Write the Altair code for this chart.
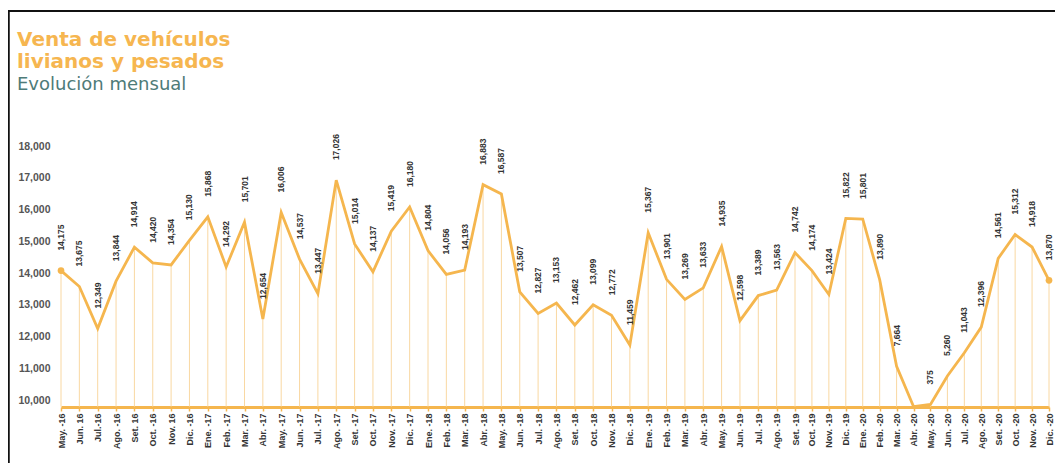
import altair as alt
import pandas as pd

months = ["May. -16", "Jun. 16", "Jul.-16", "Ago. -16", "Set. 16", "Oct. -16", "Nov. 16", "Dic. -16",
          "Ene. -17", "Feb. -17", "Mar. -17", "Abr. -17", "May. -17", "Jun. -17", "Jul. -17", "Ago. -17",
          "Set. -17", "Oct. -17", "Nov. -17", "Dic. -17",
          "Ene. -18", "Feb. -18", "Mar. -18", "Abr. -18", "May. -18", "Jun. -18", "Jul. -18", "Ago. -18",
          "Set. -18", "Oct. -18", "Nov. -18", "Dic. -18",
          "Ene. -19", "Feb. -19", "Mar. -19", "Abr. -19", "May. -19", "Jun. -19", "Jul. -19", "Ago. -19",
          "Set. -19", "Oct. -19", "Nov. -19", "Dic. -19",
          "Ene. -20", "Feb. -20", "Mar. -20", "Abr. -20", "May. -20", "Jun. -20", "Jul. -20", "Ago. -20",
          "Set. -20", "Oct. -20", "Nov. -20", "Dic. -20"]

sales = [14175, 13675, 12349, 13844, 14914, 14420, 14354, 15130,
         15868, 14292, 15701, 12654, 16006, 14537, 13447, 17026, 15014, 14137, 15419, 16180,
         14804, 14056, 14193, 16883, 16587, 13507, 12827, 13153, 12462, 13099, 12772, 11459,
         15367, 13901, 13269, 13633, 14935, 12598, 13389, 13563, 14742, 14174, 13424, 15822,
         15801, 13890, 7664, 0, 375, 5260, 11043, 12396, 14561, 15312, 14918, 13870]

axis_ticks = [10000, 11000, 12000, 13000, 14000, 15000, 16000, 17000, 18000]

df = pd.DataFrame({"i": list(range(len(months))), "mes": months, "v": sales})
one = pd.DataFrame({"a": [0]})

ORANGE = "#F5B64E"
LIGHT = "#F9D8A2"
W, H = 1000, 277
PL, PT, PR, PB = 47, 122, 0, 56

label_expr = "[" + ",".join("'" + m + "'" for m in months) + "][datum.value]"

X = alt.X("i:Q",
          scale=alt.Scale(domain=[0, 40, 55], range=[6, 740, 994], nice=False, zero=False),
          axis=alt.Axis(values=list(range(len(months))), labelExpr=label_expr, title=None, grid=False,
                        domainColor=ORANGE, domainWidth=3, tickColor=ORANGE, tickSize=4, tickWidth=1.5,
                        labelAngle=270, labelAlign="right", labelBaseline="middle", labelPadding=2,
                        labelFont="Liberation Sans", labelFontSize=9, labelFontWeight="bold",
                        labelColor="#333333", labelOverlap=False, labelFlush=False))

data_scale = alt.Scale(domain=[0, 5260, 11043, 12349, 18604],
                       range=[276.6, 246.0, 222.7, 198.6, 0], nice=False, zero=False)
Yd = alt.Y("v:Q", scale=data_scale, axis=None)

base = alt.Chart(df)

axis_layer = base.mark_point(opacity=0).encode(
    x=X,
    y=alt.Y("v:Q", scale=alt.Scale(domain=[9780, 18504], nice=False, zero=False),
            axis=alt.Axis(values=axis_ticks, labelExpr="format(datum.value, ',')", title=None, grid=False,
                          domain=False, ticks=False,
                          labelPadding=5, labelFont="Liberation Sans", labelFontSize=10.5,
                          labelFontWeight="bold", labelColor="#555555")))

drops = base.mark_rule(color=LIGHT, strokeWidth=1).encode(x=X, y=Yd, y2=alt.datum(0))
line = base.mark_line(color=ORANGE, strokeWidth=2.8).encode(x=X, y=Yd)
ends = base.mark_circle(color=ORANGE, size=45, opacity=1).encode(x=X, y=Yd).transform_filter(
    "datum.i == 0 || datum.i == 55")
labels = base.mark_text(angle=270, align="left", baseline="middle", dx=20,
                        font="Liberation Sans", fontSize=8.5, fontWeight="bold", color="#333333").encode(
    x=X, y=Yd, text=alt.Text("v:Q", format=",")).transform_filter("datum.v > 0")

border_left = alt.Chart(one).mark_rule(color="#111111", strokeWidth=2.5).encode(
    x=alt.value(-46.5), y=alt.value(-119), y2=alt.value(H + PB))
border_top = alt.Chart(one).mark_rule(color="#111111", strokeWidth=2.2).encode(
    x=alt.value(-PL), x2=alt.value(W), y=alt.value(-119))

chart = alt.layer(axis_layer, drops, line, ends, labels, border_left, border_top).resolve_scale(
    y="independent"
).properties(
    width=W, height=H,
    background="white",
    padding={"left": PL, "top": PT, "right": PR, "bottom": PB},
    autosize=alt.AutoSizeParams(type="none"),
    title=alt.TitleParams(text=["Venta de vehículos", "livianos y pesados"],
                          subtitle="Evolución mensual", anchor="start", frame="group",
                          font="DejaVu Sans", fontSize=20, fontWeight="bold", color="#F6B650",
                          lineHeight=22, subtitleFont="DejaVu Sans", subtitleFontSize=18,
                          subtitleColor="#4E7B78", subtitlePadding=4, dx=-38, offset=-84)
).configure_view(strokeWidth=0, stroke="transparent")

chart.save("out.html", embed_options={"renderer": "svg", "actions": False})
